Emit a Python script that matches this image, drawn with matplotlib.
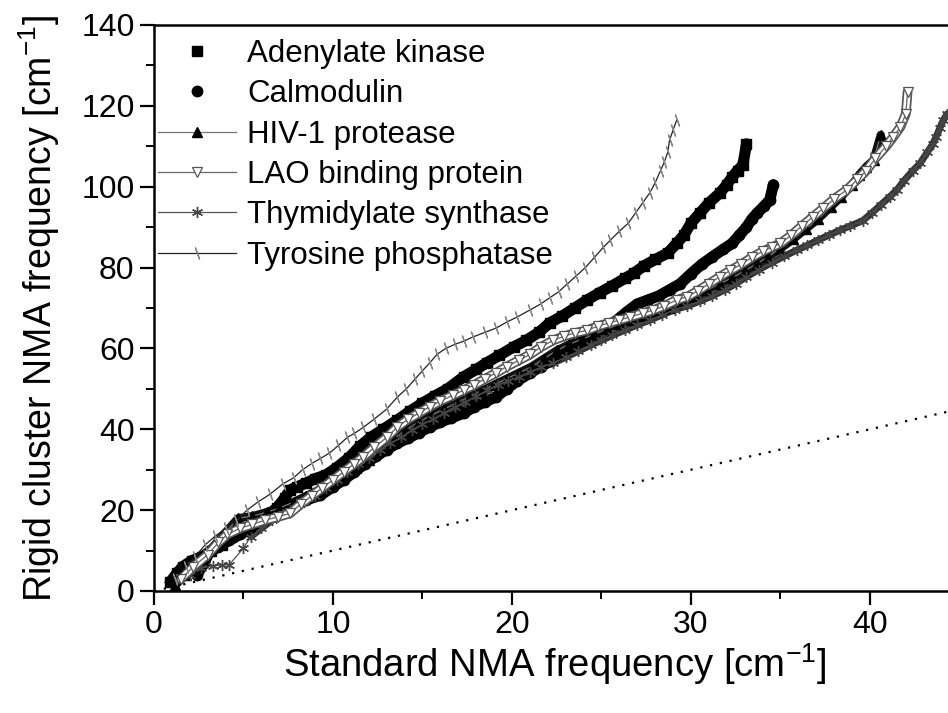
import matplotlib
matplotlib.use("Agg")
import matplotlib.pyplot as plt
from matplotlib.ticker import MultipleLocator

plt.rcParams['font.family'] = ['Liberation Sans', 'DejaVu Sans']
plt.rcParams['mathtext.default'] = 'regular'

# ---------------- data ----------------
adk_x = [0.9, 1.3, 1.6, 2.1, 2.7, 3.2, 3.8, 4.3, 4.8, 5.2, 5.9, 6.4, 6.85, 7.3, 7.6, 8.0, 8.5, 9.0, 9.6,
         10.2, 10.9, 11.5, 12.1, 12.8, 13.6, 14.3, 15.0, 15.7, 16.4, 17.3, 18.0, 18.6, 19.3, 20.1, 20.8,
         21.5, 22.1, 22.8, 23.5, 24.2, 24.9, 25.6, 26.3, 26.8, 27.4, 28.0, 28.7, 29.2, 29.6, 30.0, 30.5,
         31.0, 31.6, 32.0, 32.3, 32.6, 32.9, 33.1]
adk_y = [2.2, 4.5, 6.0, 7.5, 8.5, 10.0, 11.4, 13.4, 14.5, 15.0, 17.6, 19.0, 20.5, 23.0, 25.0, 25.8, 26.7, 27.8, 28.7,
         30.5, 33.0, 35.8, 38.0, 40.0, 42.3, 44.5, 46.5, 48.3, 50.0, 53.0, 54.8, 56.5, 58.3, 60.4, 62.0,
         64.0, 66.3, 68.0, 70.0, 72.0, 73.8, 75.5, 77.3, 78.6, 80.5, 82.0, 83.6, 86.0, 88.0, 91.0, 93.5,
         96.0, 98.4, 100.5, 102.4, 104.0, 105.4, 110.6]

cam_x = [2.4, 2.8, 3.1, 3.6, 4.2, 4.8, 5.4, 6.0, 6.6, 7.2, 7.8, 8.5, 9.3, 10.0, 10.6, 11.2, 11.8, 12.4, 13.0,
         13.6, 14.2, 14.8, 15.4, 16.0, 16.6, 17.3, 17.9, 18.5, 19.1, 19.7, 20.3, 21.0, 21.6, 22.2, 22.8,
         23.4, 24.0, 24.6, 25.2, 25.8, 26.4, 27.0, 27.6, 28.2, 28.8, 29.4, 30.0, 30.6, 31.2, 31.8, 32.3,
         32.7, 33.1, 33.4, 33.7, 34.1, 34.4, 34.6]
cam_y = [4.0, 7.0, 9.7, 11.0, 12.5, 14.0, 15.5, 17.0, 18.5, 20.0, 21.3, 22.5, 23.7, 25.8, 27.5, 29.5, 31.5, 33.3, 35.0,
         36.6, 37.8, 39.2, 40.6, 41.8, 42.8, 44.0, 45.6, 46.8, 48.0, 50.0, 52.0, 53.9, 55.5, 57.0, 58.8,
         60.4, 62.0, 63.5, 65.0, 66.8, 69.0, 71.0, 72.0, 73.0, 74.5, 76.0, 78.5, 80.8, 82.7, 84.5, 86.0,
         88.0, 90.0, 92.0, 93.5, 95.3, 96.7, 100.5]

hiv_x = [1.2, 1.8, 2.5, 3.2, 3.9, 4.7, 5.5, 6.3, 7.0, 7.8, 8.5, 9.2, 9.9, 10.6, 11.3, 12.0, 12.7, 13.4, 14.1,
         14.8, 15.5, 16.2, 16.9, 17.6, 18.3, 19.0, 19.7, 20.4, 21.1, 21.8, 22.5, 23.2, 23.9, 24.6, 25.3,
         26.0, 26.7, 27.4, 28.1, 28.8, 29.5, 30.2, 30.9, 31.6, 32.3, 33.0, 33.7, 34.3, 35.0, 35.7, 36.4,
         37.1, 37.8, 38.4, 39.0, 39.4, 39.8, 40.2, 40.6]
hiv_y = [1.5, 4.0, 7.0, 10.5, 14.0, 18.0, 18.5, 19.5, 20.5, 22.0, 23.5, 25.0, 27.0, 28.5, 30.5, 32.5, 35.0, 37.5, 40.0,
         41.8, 43.5, 45.0, 46.5, 48.0, 49.5, 51.0, 52.5, 54.0, 55.5, 57.5, 59.5, 61.0, 62.3, 63.5, 64.8,
         66.0, 67.0, 68.0, 69.0, 70.0, 71.3, 72.8, 74.5, 76.0, 77.5, 79.2, 81.0, 82.7, 84.7, 87.0, 89.5,
         92.0, 95.0, 97.5, 100.5, 103.0, 105.0, 106.6, 112.8]

lao_x = [1.5, 2.2, 3.0, 3.6, 4.1, 4.8, 5.5, 6.2, 6.9, 7.6, 8.2, 8.8, 9.4, 10.0, 10.6, 11.2, 11.7, 12.3, 13.0,
         13.6, 14.2, 14.8, 15.4, 16.0, 16.7, 17.3, 17.9, 18.5, 19.1, 19.7, 20.4, 21.0, 21.6, 22.3, 22.9,
         23.5, 24.2, 24.8, 25.4, 26.0, 26.6, 27.3, 27.9, 28.5, 29.2, 29.8, 30.4, 31.0, 31.6, 32.2, 32.8,
         33.4, 34.0, 34.5, 35.0, 35.6, 36.2, 36.8, 37.4, 38.0, 38.7, 39.3, 39.8, 40.3, 40.9, 41.3, 41.7,
         42.0, 42.1]
lao_y = [3.0, 6.0, 9.0, 12.0, 14.0, 15.5, 16.5, 17.5, 18.3, 19.2, 21.5, 23.5, 25.5, 27.5, 29.5, 31.5, 33.2, 35.5, 38.0,
         40.6, 42.5, 44.0, 45.6, 47.0, 48.4, 49.7, 51.0, 52.5, 53.9, 55.5, 57.1, 58.5, 60.3, 62.0, 63.0,
         63.8, 64.5, 65.5, 66.3, 67.0, 67.8, 68.7, 69.5, 70.5, 72.0, 72.8, 74.3, 76.0, 77.7, 79.3, 80.8,
         82.5, 84.0, 85.0, 86.0, 88.0, 90.3, 92.5, 94.7, 97.0, 99.2, 101.8, 104.0, 107.0, 110.0, 112.3, 114.8,
         118.0, 123.5]

tms_x = [2.0, 2.6, 3.3, 3.8, 4.2, 5.0, 5.4, 6.0, 6.6, 7.2, 7.8, 8.4, 9.0, 9.6, 10.2, 10.8, 11.4, 12.0, 12.6,
         13.2, 13.8, 14.4, 15.0, 15.6, 16.2, 16.8, 17.4, 18.0, 18.6, 19.2, 19.8, 20.4, 21.0, 21.6, 22.3,
         23.0, 23.7, 24.4, 25.0, 25.6, 26.3, 27.0, 27.7, 28.4, 29.1, 29.8, 30.5, 31.2, 31.9, 32.5, 33.1,
         33.8, 34.5, 35.2, 35.9, 36.5, 37.1, 37.7, 38.3, 38.9, 39.6, 40.1, 40.6, 41.1, 41.5, 41.9, 42.4,
         42.8, 43.2, 43.5, 43.7, 43.9, 44.1, 44.3]
tms_y = [4.0, 5.7, 6.2, 6.4, 6.5, 10.6, 13.4, 15.5, 17.5, 19.0, 20.5, 22.0, 23.5, 25.5, 27.5, 29.5, 31.5, 33.0, 34.8,
         36.5, 38.0, 39.8, 41.3, 42.5, 44.0, 45.5, 46.8, 48.2, 49.6, 51.0, 52.0, 53.0, 54.2, 55.3, 56.4,
         57.8, 59.3, 60.8, 62.0, 63.2, 64.5, 65.8, 67.0, 68.3, 69.6, 70.5, 71.7, 73.0, 74.5, 76.0, 77.7,
         79.5, 81.2, 82.8, 84.3, 85.5, 86.8, 88.0, 89.2, 90.3, 91.6, 93.5, 95.5, 97.5, 99.2, 101.5, 104.0,
         105.8, 108.5, 110.5, 112.4, 114.5, 116.5, 118.0]

tyr_x = [1.2, 1.8, 2.3, 2.85, 3.4, 4.0, 4.6, 5.2, 5.8, 6.5, 7.2, 7.8, 8.3, 8.8, 9.3, 9.8, 10.3, 10.8, 11.2,
         11.7, 12.3, 13.0, 13.6, 14.1, 14.6, 15.0, 15.4, 15.8, 16.3, 16.8, 17.3, 17.8, 18.5, 19.1, 19.7,
         20.3, 21.0, 21.6, 22.1, 22.6, 23.1, 23.6, 24.1, 24.6, 25.1, 25.5, 26.0, 26.5, 26.9, 27.3, 27.7,
         28.0, 28.3, 28.5, 28.7, 28.8, 29.0, 29.2]
tyr_y = [3.0, 6.0, 8.5, 11.4, 13.5, 15.5, 17.5, 20.0, 22.0, 24.0, 26.5, 28.0, 30.0, 31.5, 32.8, 34.1, 36.0, 38.0, 39.0,
         40.5, 42.5, 45.0, 48.0, 50.0, 52.5, 54.5, 56.4, 58.5, 60.0, 61.0, 61.8, 62.8, 64.0, 65.0, 66.5,
         67.8, 69.5, 71.0, 72.5, 74.0, 76.0, 78.0, 80.0, 82.5, 85.0, 86.8, 89.0, 91.0, 93.5, 96.0, 98.5,
         101.0, 104.0, 106.0, 108.5, 111.5, 114.0, 116.5]

# reference diagonal (y = x)
diag_x = [0, 46]
diag_y = [0, 46]

labels = ["Adenylate kinase", "Calmodulin", "HIV-1 protease",
          "LAO binding protein", "Thymidylate synthase", "Tyrosine phosphatase"]

# ---------------- figure ----------------
W, H = 948, 713
fig = plt.figure(figsize=(W / 100, H / 100), dpi=100)
x0_px, y0_px = 154, 591          # data origin in pixels
x_end_px = 154 + 45 * 17.9       # x = 45 (beyond the right edge)
y_top_px = 25
ax = fig.add_axes([x0_px / W, (H - y0_px) / H, (x_end_px - x0_px) / W, (y0_px - y_top_px) / H])
ax.set_xlim(0, 45)
ax.set_ylim(0, 140)

# dotted diagonal
ax.plot(diag_x, diag_y, color='black', lw=1.6, linestyle=(0, (1, 3.5)), zorder=1)

# dense bands (the overlapping markers of the original)
ax.plot(tms_x[6:], tms_y[6:], color='#333333', lw=5, solid_capstyle='round', zorder=2)
ax.plot(adk_x, adk_y, color='black', lw=8, solid_capstyle='round', zorder=2)
ax.plot(cam_x, cam_y, color='black', lw=8, solid_capstyle='round', zorder=2)
ax.plot(hiv_x, hiv_y, color='#111111', lw=6, solid_capstyle='round', zorder=2)
ax.plot(lao_x, lao_y, color='#555555', lw=7, solid_capstyle='round', zorder=4.5)
ax.plot(lao_x, lao_y, color='white', lw=4.5, solid_capstyle='round', zorder=4.6)

h_adk, = ax.plot(adk_x, adk_y, linestyle='none', marker='s', ms=7, color='black', label=labels[0], zorder=3)
h_cam, = ax.plot(cam_x, cam_y, linestyle='none', marker='o', ms=7.5, color='black', label=labels[1], zorder=3)
h_hiv, = ax.plot(hiv_x, hiv_y, color='#777777', lw=0.9, marker='^', ms=7.5, mfc='black', mec='black',
                 label=labels[2], zorder=3)
h_tms, = ax.plot(tms_x, tms_y, color='#555555', lw=0.9, marker=(6, 2, 0), ms=8, mec='#444444',
                 mew=1.0, label=labels[4], zorder=4)
h_lao, = ax.plot(lao_x, lao_y, color='#666666', lw=0.9, marker='v', ms=7, mfc='white', mec='#555555',
                 mew=0.9, label=labels[3], zorder=5)
h_tyr, = ax.plot(tyr_x, tyr_y, color='#222222', lw=0.9, marker=(2, 2, 20), ms=9, mec='#888888',
                 mew=0.9, label=labels[5], zorder=6)

# axes styling
for side in ['left', 'bottom', 'top']:
    ax.spines[side].set_linewidth(1.8)
ax.spines['right'].set_visible(False)
ax.xaxis.set_major_locator(MultipleLocator(10))
ax.xaxis.set_minor_locator(MultipleLocator(5))
ax.yaxis.set_major_locator(MultipleLocator(20))
ax.yaxis.set_minor_locator(MultipleLocator(10))
ax.tick_params(which='major', direction='out', length=10, width=1.6, labelsize=23, pad=4)
ax.tick_params(which='minor', direction='out', length=6, width=1.4)
ax.tick_params(top=False, right=False, which='both')

fig.text(555 / W, 1 - 664 / H, 'Standard NMA frequency [cm$^{-1}$]', ha='center', va='center', fontsize=27.5)
fig.text(39 / W, 1 - 308 / H, 'Rigid cluster NMA frequency [cm$^{-1}$]', ha='center', va='center',
         rotation=90, fontsize=27)

handles = [h_adk, h_cam, h_hiv, h_lao, h_tms, h_tyr]
leg = fig.legend(handles, labels, loc='upper left', bbox_to_anchor=(158 / W, 1 - 39 / H),
                 frameon=False, fontsize=22.5, handlelength=2.5, handletextpad=0.35,
                 labelspacing=0.33, borderpad=0, borderaxespad=0, numpoints=1)

fig.savefig('out.png', dpi=100)
